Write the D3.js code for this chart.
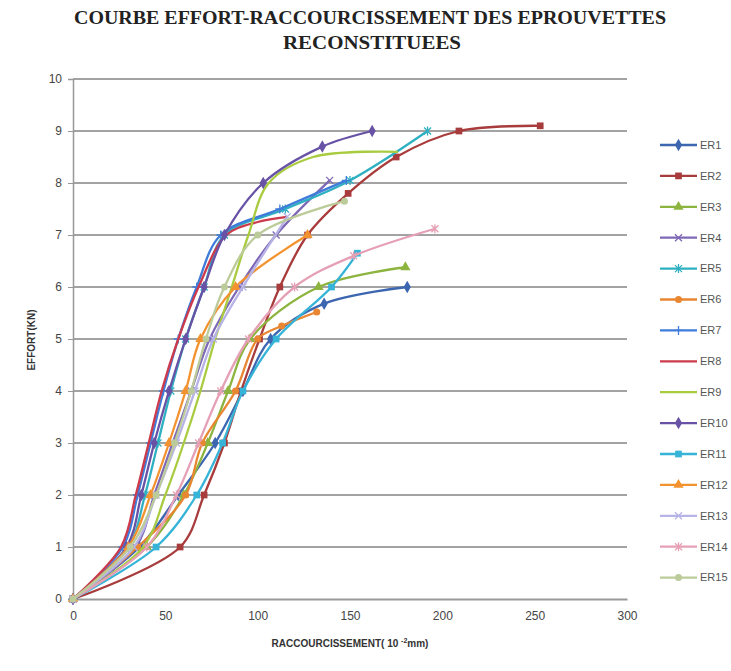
<!DOCTYPE html>
<html>
<head>
	<title>courbe effort-raccourcissement</title>
	<style>
	body { margin: 0; background: #fff; }
	.title {
		font-family: "Liberation Serif", "DejaVu Serif", serif;
		font-weight: bold;
		font-size: 19px;
		fill: #222;
		text-anchor: middle;
	}
	.tick text { font-family: "Liberation Sans", Arial, sans-serif; font-size: 12px; fill: #444; }
	.axistitle {
		font-family: "Liberation Sans", Arial, sans-serif;
		font-size: 10px;
		font-weight: bold;
		fill: #333;
		text-anchor: middle;
	}
	.legendtext { font-family: "Liberation Sans", Arial, sans-serif; font-size: 11px; fill: #555; }
	</style>
	<script src="https://d3js.org/d3.v7.min.js"></script>
</head>
<body>
	<script type="text/javascript">
		// series names and colours
		var seriesNames = ['ER1', 'ER2', 'ER3', 'ER4', 'ER5', 'ER6', 'ER7', 'ER8',
			'ER9', 'ER10', 'ER11', 'ER12', 'ER13', 'ER14', 'ER15'];
		var seriesColors = ['#3d66b0', '#a83b3b', '#8db43f', '#7e68b6', '#2fb0c2', '#e98631',
			'#3f7cda', '#cc3a4c', '#a9cb40', '#6852a6', '#35b4d8', '#f39330',
			'#b7b3e6', '#e6a0b6', '#bccb9a'];
		var seriesMarkers = ['diamond', 'square', 'triangle', 'x', 'star', 'circle', 'plus', 'none',
			'none', 'diamond', 'square', 'triangle', 'x', 'star', 'circle'];

		// [raccourcissement (10^-2 mm), effort (kN)]
		var ER1 = [[0, 0], [36, 1], [57, 2], [77, 3], [92, 4], [107, 5], [136, 5.68], [181, 6]];
		var ER2 = [[0, 0], [58, 1], [71, 2], [82, 3], [91, 4], [101, 5], [112, 6], [127, 7], [149, 7.8], [175, 8.5], [209, 9], [253, 9.1]];
		var ER3 = [[0, 0], [40, 1], [60, 2], [73, 3], [84, 4], [96, 5], [133, 6], [180, 6.38]];
		var ER4 = [[0, 0], [34, 1], [44, 2], [54, 3], [64, 4], [74, 5], [90, 6], [110, 7], [139, 8.05]];
		var ER5 = [[0, 0], [30, 1], [39, 2], [46, 3], [53, 4], [61, 5], [71, 6], [82, 7], [115, 7.5], [150, 8.05], [192, 9]];
		var ER6 = [[0, 0], [35, 1], [61, 2], [70, 3], [88, 4], [100, 5], [113, 5.25], [132, 5.52]];
		var ER7 = [[0, 0], [27, 1], [35, 2], [42, 3], [49, 4], [57, 5], [67, 6], [80, 7], [112, 7.5], [148, 8.05]];
		var ER8 = [[0, 0], [26, 1], [34, 2], [41, 3], [48, 4], [57, 5], [68, 6], [83, 7], [100, 7.25], [116, 7.35]];
		var ER9 = [[0, 0], [38, 1], [50, 2], [60, 3], [69, 4], [77, 5], [86, 6], [95, 7], [106, 8], [130, 8.5], [176, 8.6]];
		var ER10 = [[0, 0], [29, 1], [37, 2], [44, 3], [52, 4], [61, 5], [71, 6], [82, 7], [103, 8], [135, 8.7], [162, 9]];
		var ER11 = [[0, 0], [45, 1], [67, 2], [81, 3], [92, 4], [110, 5], [140, 6], [154, 6.65]];
		var ER12 = [[0, 0], [30, 1], [42, 2], [52, 3], [61, 4], [69, 5], [88, 6], [127, 7]];
		var ER13 = [[0, 0], [33, 1], [45, 2], [56, 3], [66, 4], [76, 5], [92, 6], [116, 7.35]];
		var ER14 = [[0, 0], [40, 1], [56, 2], [68, 3], [80, 4], [95, 5], [120, 6], [152, 6.6], [196, 7.12]];
		var ER15 = [[0, 0], [31, 1], [45, 2], [55, 3], [64, 4], [72, 5], [82, 6], [100, 7], [147, 7.65]];
		var seriesData = [ER1, ER2, ER3, ER4, ER5, ER6, ER7, ER8, ER9, ER10, ER11, ER12, ER13, ER14, ER15];

		var xTicks = [0, 50, 100, 150, 200, 250, 300];
		var yTicks = [0, 1, 2, 3, 4, 5, 6, 7, 8, 9, 10];

		var svgWidth = 731;
		var svgHeight = 671;

		var svg = d3.select('body').append('svg')
			.attr('width', svgWidth)
			.attr('height', svgHeight);

		var x = d3.scaleLinear().domain([0, 300]).range([73, 627]);
		var y = d3.scaleLinear().domain([0, 10]).range([599, 79]);

		// titre
		svg.append('text').attr('class', 'title')
			.attr('x', 370).attr('y', 24)
			.attr('textLength', 592).attr('lengthAdjust', 'spacingAndGlyphs')
			.text('COURBE EFFORT-RACCOURCISSEMENT  DES EPROUVETTES');
		svg.append('text').attr('class', 'title')
			.attr('x', 372).attr('y', 49)
			.attr('textLength', 178).attr('lengthAdjust', 'spacingAndGlyphs')
			.text('RECONSTITUEES');

		// grille horizontale
		svg.append('g')
			.selectAll('line')
			.data(yTicks.slice(1))
			.enter()
			.append('line')
			.attr('x1', x(0)).attr('x2', x(300))
			.attr('y1', function (d) { return y(d); })
			.attr('y2', function (d) { return y(d); })
			.style('stroke', '#a3a3a3')
			.style('stroke-width', 2);

		// axe Y
		var yAxis = svg.append('g')
			.attr('transform', 'translate(' + x(0) + ',0)')
			.call(d3.axisLeft(y).tickValues(yTicks).tickSize(5).tickPadding(6));
		yAxis.select('.domain').style('stroke', '#999').style('stroke-width', 1.5);
		yAxis.selectAll('.tick line').style('stroke', '#999');

		// axe X
		var xAxis = svg.append('g')
			.attr('transform', 'translate(0,' + y(0) + ')')
			.call(d3.axisBottom(x).tickValues(xTicks).tickSize(0).tickPadding(12));
		xAxis.select('.domain').style('stroke', '#999').style('stroke-width', 2);

		svg.append('text').attr('class', 'axistitle')
			.attr('x', 350).attr('y', 647)
			.text('RACCOURCISSEMENT(  10 ')
			.append('tspan').attr('dy', -4).style('font-size', '7px').text('-2')
			.select(function () { return this.parentNode; })
			.append('tspan').attr('dy', 4).text('mm)');

		svg.append('text').attr('class', 'axistitle')
			.attr('transform', 'translate(35,' + 340 + ') rotate(-90)')
			.text('EFFORT(KN)');

		// courbes lissees
		var line = d3.line()
			.x(function (d) { return x(d[0]); })
			.y(function (d) { return y(d[1]); })
			.curve(d3.curveCatmullRom.alpha(0.5));

		function drawMarker(g, type, color) {
			if (type === 'none') return;
			if (type === 'circle') {
				g.append('circle').attr('r', 3.5).attr('fill', color);
			} else if (type === 'x') {
				g.append('path').attr('d', 'M-3.5,-3.5L3.5,3.5M-3.5,3.5L3.5,-3.5')
					.style('stroke', color).style('stroke-width', 1.3);
			} else if (type === 'plus') {
				g.append('path').attr('d', 'M-4.5,0L4.5,0M0,-4.5L0,4.5')
					.style('stroke', color).style('stroke-width', 1.3);
			} else if (type === 'star') {
				g.append('path').attr('d', 'M-3.5,-3.5L3.5,3.5M-3.5,3.5L3.5,-3.5M0,-4.5L0,4.5')
					.style('stroke', color).style('stroke-width', 1.3);
			} else {
				var sym = { diamond: d3.symbolDiamond, square: d3.symbolSquare, triangle: d3.symbolTriangle }[type];
				g.append('path').attr('d', d3.symbol().type(sym).size(45)()).attr('fill', color);
			}
		}

		seriesData.forEach(function (data, i) {
			var color = seriesColors[i];
			svg.append('path')
				.datum(data)
				.attr('d', line)
				.attr('fill', 'none')
				.style('stroke', color)
				.style('stroke-width', 2.3);

			svg.append('g')
				.selectAll('g')
				.data(data)
				.enter()
				.append('g')
				.attr('transform', function (d) { return 'translate(' + x(d[0]) + ',' + y(d[1]) + ')'; })
				.each(function () { drawMarker(d3.select(this), seriesMarkers[i], color); });
		});

		// legende
		var legend = svg.append('g')
			.selectAll('g')
			.data(seriesNames)
			.enter()
			.append('g')
			.attr('transform', function (d, i) { return 'translate(660,' + (145 + i * 30.9) + ')'; });

		legend.append('line')
			.attr('x1', 0).attr('x2', 37)
			.style('stroke', function (d, i) { return seriesColors[i]; })
			.style('stroke-width', 2.3);

		legend.append('g')
			.attr('transform', 'translate(18.5,0)')
			.each(function (d, i) { drawMarker(d3.select(this), seriesMarkers[i], seriesColors[i]); });

		legend.append('text')
			.attr('class', 'legendtext')
			.attr('x', 40).attr('dy', '0.35em')
			.text(function (d) { return d; });
	</script>
</body>
</html>
